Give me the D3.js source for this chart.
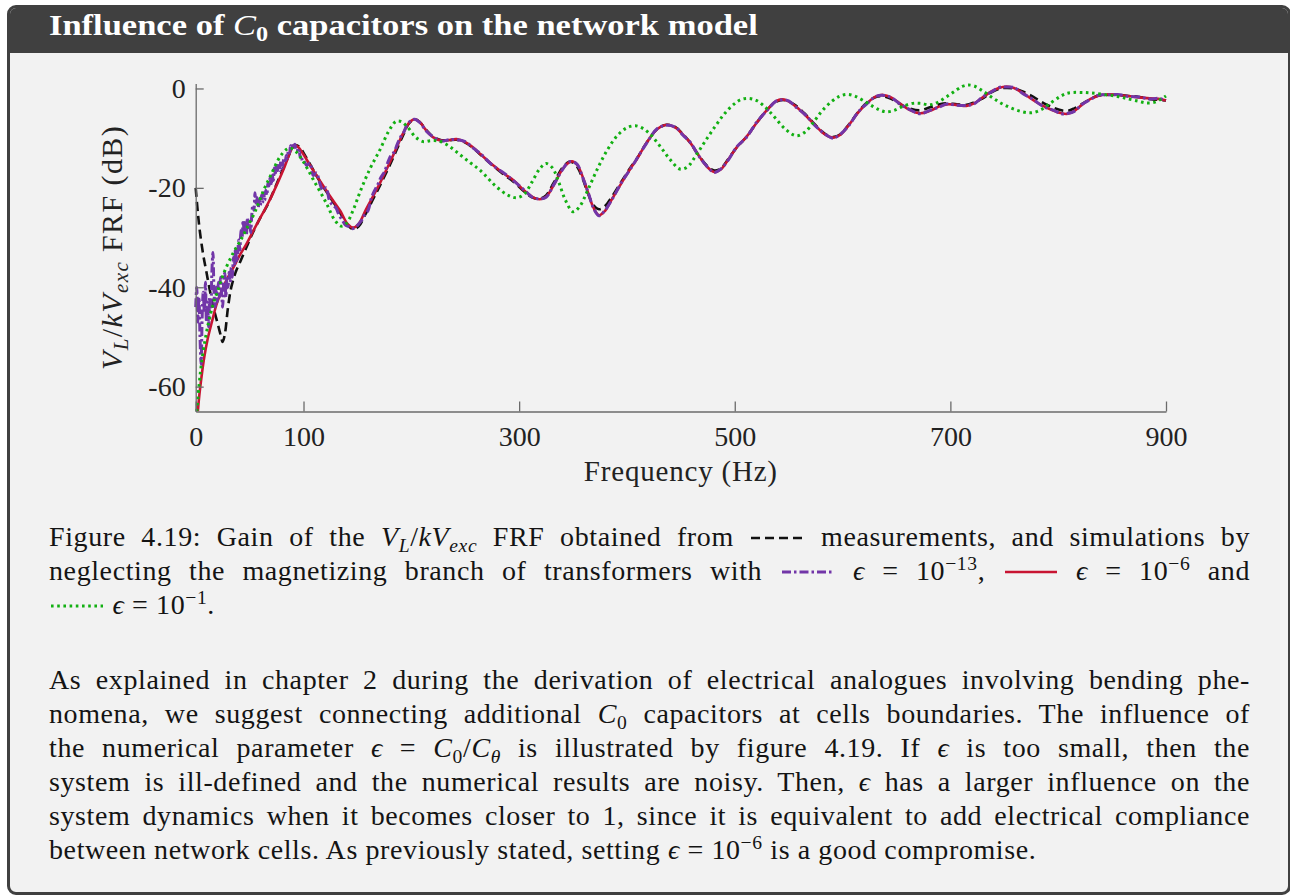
<!DOCTYPE html>
<html>
<head>
<meta charset="utf-8">
<script src="https://cdn.jsdelivr.net/npm/d3@7"></script>
<style>
  body { margin:0; background:#fff; width:1290px; height:896px; overflow:hidden; position:relative;
         font-family:'Liberation Serif','Times New Roman',serif; color:#141414; }
  #box { position:absolute; left:7px; top:5px; width:1284px; height:890px; box-sizing:border-box;
         border:3px solid #404040; border-radius:9px; background:#f2f2f2; overflow:hidden; }
  #head { position:absolute; left:0; top:0; right:0; height:45px; background:#404040; }
  #title { position:absolute; left:49px; top:8px; font-size:30px; font-weight:bold; color:#fff;
           line-height:34px; white-space:nowrap; transform:scaleX(1.15); transform-origin:0 0; }
  #title i { font-weight:normal; }
  .txt { position:absolute; left:49px; width:1201px; font-size:28px; line-height:34px; letter-spacing:0.6px; }
  .txt > div { height:34px; }
  .line { text-align:justify; text-align-last:justify; }
  .left { text-align:left; }
  .sub { font-size:70%; position:relative; top:0.3em; line-height:0; }
  .sup { font-size:70%; position:relative; top:-0.5em; line-height:0; }
  svg.key { display:inline-block; vertical-align:2px; }
  #chart { position:absolute; left:0; top:0; }
</style>
</head>
<body>
<div id="box"><div id="head"></div></div>
<div id="title">Influence of <i>C</i><span class="sub">0</span> capacitors on the network model</div>
<svg id="chart" width="1290" height="500"></svg>

<div class="txt" style="top:520px">
  <div class="line">Figure 4.19: Gain of the <i>V</i><span class="sub"><i>L</i></span>/<i>kV</i><span class="sub"><i>exc</i></span> FRF obtained from <svg class="key" data-s="meas" width="56" height="12"></svg> measurements, and simulations by</div>
  <div class="line">neglecting the magnetizing branch of transformers with <svg class="key" data-s="e13" width="56" height="12"></svg> <i>ϵ</i> = 10<span class="sup">−13</span>, <svg class="key" data-s="e6" width="56" height="12"></svg> <i>ϵ</i> = 10<span class="sup">−6</span> and</div>
  <div class="left"><svg class="key" data-s="e1" width="56" height="12"></svg> <i>ϵ</i> = 10<span class="sup">−1</span>.</div>
</div>

<div class="txt" style="top:663px">
  <div class="line">As explained in chapter 2 during the derivation of electrical analogues involving bending phe-</div>
  <div class="line">nomena, we suggest connecting additional <i>C</i><span class="sub">0</span> capacitors at cells boundaries. The influence of</div>
  <div class="line">the numerical parameter <i>ϵ</i> = <i>C</i><span class="sub">0</span>/<i>C</i><span class="sub"><i>θ</i></span> is illustrated by figure 4.19. If <i>ϵ</i> is too small, then the</div>
  <div class="line">system is ill-defined and the numerical results are noisy. Then, <i>ϵ</i> has a larger influence on the</div>
  <div class="line">system dynamics when it becomes closer to 1, since it is equivalent to add electrical compliance</div>
  <div class="left">between network cells. As previously stated, setting <i>ϵ</i> = 10<span class="sup">−6</span> is a good compromise.</div>
</div>

<script>
// Axis ticks
const xTicks = [0, 100, 300, 500, 700, 900];
const yTicks = [0, -20, -40, -60];

// Measured FRF gain [frequency (Hz), gain (dB)]
const measured = [
  [0,-20],[2,-25],[4,-29],[7,-33.5],[10,-37],[13,-40.5],[16,-43.7],[20,-47],[23,-49.5],[25,-51],[27,-49.5],
  [30,-44],[33,-40],[37,-37],[42,-34.5],[48,-31.5],[53,-29],[60,-26],[66,-23.7],[72,-20.8],[78,-17.7],
  [84,-14.7],[88,-12.7],[92,-11.4],[96,-11.7],[101,-13.3],[108,-16],[116,-19],[125,-22],[134,-25],[141,-27.5],
  [146,-28.3],[151,-27.8],[157,-25.5],[164,-22.5],[171,-19.5],[182,-14.5],[192,-9.6],[198,-7],[203,-6.2],
  [208,-6.8],[214,-8.4],[220,-9.7],[228,-10.4],[235,-10.4],[242,-10.3],[250,-10.9],[258,-12.1],[264,-13.3],
  [275,-15.4],[287,-17.5],[295,-18.8],[305,-20.8],[313,-22],[319,-22.2],[325,-21.5],[332,-19],[340,-16],
  [346,-14.8],[350,-14.9],[354,-15.8],[359,-18.2],[364,-21.2],[369,-23.5],[374,-24.3],[379,-23.8],[386,-21.8],
  [395,-18.7],[403,-16],[409,-14.2],[418,-11],[428,-8.2],[437,-7.3],[445,-7.8],[452,-9.2],[459,-11],[466,-13.3],
  [474,-15.5],[481,-16.5],[487,-16.1],[494,-14.2],[502,-11.8],[511,-9.7],[520,-7],[530,-4.3],[538,-2.7],
  [544,-2.3],[550,-2.6],[557,-3.5],[566,-5.3],[575,-7.4],[584,-9.2],[591,-9.8],[598,-9.2],[606,-7.2],
  [615,-4.6],[624,-2.6],[631,-1.7],[638,-1.6],[645,-2.1],[653,-3.1],[662,-4],[672,-4.4],[681,-3.8],[690,-3.2],
  [697,-3],[706,-3.2],[715,-3.3],[722,-2.8],[730,-2],[738,-0.8],[746,0],[752,0.1],[759,0],[767,-0.6],
  [777,-1.7],[786,-2.9],[796,-3.9],[803,-4.4],[809,-4.5],[815,-4],[823,-3],[830,-2.1],[836,-1.5],[845,-1.3],
  [855,-1.3],[865,-1.5],[875,-1.7],[888,-2.2],[900,-2.4]
];

// Simulation, epsilon = 1e-13 (noisy at low frequency)
const eps13 = [
  [0,-44],[1,-40],[2,-47],[3,-42],[4,-50],[5,-55.5],[6,-46],[7,-41],[8,-45],[9,-39],[10,-47],[11,-43],
  [12,-48],[13,-42],[14,-45],[15,-37],[16,-33],[17,-41],[18,-44],[19,-40],[20,-43],[21,-39],[22,-42],
  [23,-38],[24,-41],[25,-44],[26,-39],[27,-37],[28,-42],[29,-38],[30,-40],[31,-37],[32,-39],[33,-36],
  [34,-38],[35,-34],[36,-35.5],[37,-32],[38,-35],[39,-33],[40,-30.5],[41,-32.5],[42,-28.5],[43,-30],
  [44,-26.5],[45,-29],[46,-27],[47,-29.5],[48,-26],[49,-28],[50,-27],[51,-29],[52,-25.5],[53,-23.5],
  [54,-24.5],[55,-21],[56,-23.5],[57,-22],[58,-24],[59,-22.5],[60,-23.5],[61,-21.5],[62,-23],[63,-21],
  [64,-22.5],[65,-20.5],[66,-21.5],[67,-19],[68,-20],[69,-18],[70,-19.5],[71,-17.5],[72,-18.5],[73,-16],
  [74,-17],[75,-15.5],[76,-16.5],[77,-15],[78,-16.5],[79,-14.5],[80,-16],[81,-15],[82,-14],[83,-15],
  [84,-13.5],[85,-14],[86,-12.5],[87,-13],[88,-11.5],[89,-12],[90,-11],[91,-11.6],[92,-11.2],[93,-12.2],
  [94,-12],[95,-13],[96,-12.6],[97,-13.8],[98,-13.4],[99,-14.6],[100,-14.5],
  [103,-15.5],[106,-15],[109,-17.5],[112,-17],[115,-19],[118,-20.5],[121,-20],[124,-22.5],[127,-23.5],
  [130,-24],[133,-25.5],[136,-26.5],[139,-27.5],[142,-27.8],[145,-28.2],[148,-28],[151,-27.3],[154,-26.5],
  [157,-25.3],[160,-24.5],[163,-22],[166,-20.5],[169,-19.3],[172,-17.8],[175,-16.8],[178,-15],[181,-13.5],
  [184,-12.8],[187,-11.2],[190,-9.8],[193,-8.8],[196,-7.3],[199,-6.6],[203,-6.2],
  [208,-6.9],[214,-8.6],[220,-9.7],[228,-10.6],[235,-10.3],[242,-10.3],[250,-10.7],[258,-12.1],[264,-13.1],
  [275,-15.4],[287,-17.2],[295,-18.6],[305,-20.5],[313,-22],[319,-22.2],[325,-21.9],[332,-19.4],[340,-16.4],
  [346,-14.8],[350,-14.8],[354,-15.3],[359,-17.9],[364,-20.9],[369,-24.1],[374,-25.6],[379,-24.7],[386,-22.4],
  [395,-18.9],[403,-16.3],[409,-14.2],[418,-11.1],[428,-8.1],[437,-7.4],[445,-7.8],[452,-9.4],[459,-10.9],
  [466,-13.4],[474,-15.6],[481,-16.9],[487,-16.2],[494,-14.4],[502,-11.7],[511,-9.8],[520,-6.9],[530,-4.4],
  [538,-2.6],[544,-2.3],[550,-2.5],[557,-3.8],[566,-5.4],[575,-7.6],[584,-9.2],[591,-10],[598,-9.2],
  [606,-7.4],[615,-4.6],[624,-2.8],[631,-1.6],[638,-1.4],[645,-1.8],[653,-3.1],[662,-4.2],[672,-5.1],
  [681,-4.4],[690,-3.7],[697,-3.1],[706,-3.4],[715,-3.4],[722,-3.1],[730,-1.7],[738,-0.7],[745,0.2],
  [752,0.3],[759,0.2],[767,-1],[776,-2.1],[786,-3.6],[796,-4.4],[803,-5.1],[809,-5],[815,-4.6],[822,-3.2],
  [830,-2.2],[838,-1.3],[845,-1.3],[855,-1.2],[865,-1.6],[875,-1.7],[885,-2.1],[893,-2],[900,-2.4]
];

// Simulation, epsilon = 1e-6
const eps6 = [
  [2,-65],[3,-62.5],[4,-60.5],[6,-57],[8,-54],[11,-50.5],[15,-47],[20,-43],[28,-38.8],[35,-36],[41,-33.5],
  [47,-31.3],[55,-28],[62,-25.2],[69,-22.3],[76,-19],[82,-16],[87.5,-12.9],[91,-11.4],[95,-11.8],[100,-13.3],
  [107,-15.8],[115,-18.5],[125,-21.8],[134,-24.6],[141,-27.3],[146,-28],[151,-27.3],[158,-24.3],[165,-21.5],
  [171,-19],[182,-14],[192,-9.2],[198,-6.9],[203,-6.2],[208,-6.8],[214,-8.5],[220,-9.8],[228,-10.5],
  [235,-10.4],[242,-10.2],[250,-10.8],[258,-12],[264,-13.2],[275,-15.3],[287,-17.3],[295,-18.5],[305,-20.6],
  [313,-21.9],[319,-22.3],[325,-21.8],[332,-19.5],[340,-16.3],[346,-14.9],[350,-14.7],[354,-15.4],[359,-17.8],
  [364,-21],[369,-24],[374,-25.5],[379,-24.8],[386,-22.3],[395,-19],[403,-16.2],[409,-14.3],[418,-11],
  [428,-8.2],[437,-7.3],[445,-7.9],[452,-9.3],[459,-11],[466,-13.3],[474,-15.7],[481,-16.8],[487,-16.3],
  [494,-14.3],[502,-11.8],[511,-9.7],[520,-7],[530,-4.3],[538,-2.6],[544,-2.2],[550,-2.6],[557,-3.7],
  [566,-5.5],[575,-7.5],[584,-9.3],[591,-9.9],[598,-9.3],[606,-7.3],[615,-4.7],[624,-2.7],[631,-1.6],
  [638,-1.3],[645,-1.8],[653,-3],[662,-4.3],[672,-5],[681,-4.5],[690,-3.6],[697,-3.2],[706,-3.3],[715,-3.5],
  [722,-3],[730,-1.8],[738,-0.6],[745,0.1],[752,0.4],[759,0.1],[767,-0.9],[776,-2.2],[786,-3.5],[796,-4.5],
  [803,-5],[809,-5.1],[815,-4.5],[822,-3.3],[830,-2.1],[838,-1.4],[845,-1.2],[855,-1.3],[865,-1.5],
  [875,-1.8],[885,-2],[893,-2.1],[900,-2.4]
];

// Simulation, epsilon = 1e-1
const eps1 = [
  [1,-65],[3,-60],[5,-56],[8,-51.5],[12,-47],[16,-43.5],[20,-41],[26,-37.2],[35,-33],[41,-30.8],[47,-28.3],
  [55,-24.8],[63,-20.5],[70,-17.3],[78,-13.8],[84,-12.3],[88,-12],[93,-12.7],[100,-14.8],[109,-18.3],
  [121,-23],[129,-26.5],[135,-27.7],[140,-27.1],[146,-24.5],[153,-20.5],[162,-16],[171,-12.3],[179,-8.6],
  [186,-6.6],[191,-6.7],[197,-7.9],[204,-9.8],[211,-10.7],[218,-10.5],[226,-10.6],[235,-11.6],[245,-13.3],
  [255,-15],[264,-16.5],[279,-19.8],[290,-21.5],[298,-22],[305,-21.2],[312,-18.8],[319,-16.2],[325,-15.1],
  [331,-16],[337,-19],[343,-22.5],[350,-24.8],[356,-23.8],[364,-20.3],[373,-16],[382,-12.3],[391,-9.5],
  [400,-7.9],[408,-7.5],[416,-8.2],[424,-9.8],[432,-12],[440,-14.3],[449,-16.2],[456,-15.8],[464,-13.5],
  [472,-10.8],[481,-7.9],[490,-5.2],[499,-3.2],[506,-2.2],[513,-2],[520,-2.4],[528,-3.7],[537,-5.8],
  [547,-8.2],[557,-9.5],[565,-8.8],[573,-6.8],[581,-4.5],[590,-2.6],[597,-1.6],[604,-1.2],[611,-1.5],
  [619,-2.4],[628,-3.6],[635,-4.4],[641,-4.7],[648,-4.4],[656,-3.6],[665,-3],[672,-3],[681,-3.3],[689,-2.7],
  [697,-1.6],[705,-0.4],[711,0.4],[716,0.7],[722,0.5],[730,-0.5],[740,-2],[750,-3.3],[762,-4.4],[774,-4.9],
  [784,-4.3],[793,-2.9],[802,-1.6],[808,-1],[814,-0.8],[822,-0.8],[830,-0.9],[842,-1.2],[855,-1.6],
  [865,-2.1],[875,-2.6],[882,-2.9],[889,-2.8],[895,-2.2],[900,-1.5]
];

const styles = {
  meas: { color:"#111111", width:2.6, dash:"9,5" },
  e13:  { color:"#7236a8", width:3,   dash:"9,3,2.5,3" },
  e6:   { color:"#c81432", width:2.6, dash:null },
  e1:   { color:"#12b012", width:3,   dash:"2.6,3.6" }
};
const series = [
  { key:"meas", data:measured },
  { key:"e6",   data:eps6 },
  { key:"e13",  data:eps13 },
  { key:"e1",   data:eps1 }
];

const FONT = "'Liberation Serif','Times New Roman',serif";
const svg = d3.select("#chart");

const x = d3.scaleLinear().domain([0, 900]).range([195.7, 1166]);
const y = d3.scaleLinear().domain([-65, 1]).range([411.5, 83.5]);

svg.append("defs").append("clipPath").attr("id", "plotClip")
  .append("rect").attr("x", x(0) - 2).attr("y", y(1) - 4)
  .attr("width", x(900) - x(0) + 4).attr("height", y(-65) - y(1) + 4);

const line = d3.line()
  .x(d => x(d[0])).y(d => y(d[1]))
  .curve(d3.curveCatmullRom.alpha(0.5));

const plot = svg.append("g").attr("clip-path", "url(#plotClip)");
series.forEach(s => {
  const st = styles[s.key];
  plot.append("path").datum(s.data)
    .attr("d", line)
    .attr("fill", "none")
    .attr("stroke", st.color)
    .attr("stroke-width", st.width)
    .attr("stroke-dasharray", st.dash)
    .attr("stroke-linejoin", "round");
});

// Axes with inward ticks
const axisColor = "#6b6b6b";
const gx = svg.append("g").attr("transform", `translate(0,${y(-65)})`)
  .call(d3.axisBottom(x).tickValues(xTicks).tickFormat(d3.format("d"))
        .tickSizeInner(-10).tickSizeOuter(0).tickPadding(15));
const gy = svg.append("g").attr("transform", `translate(${x(0)},0)`)
  .call(d3.axisLeft(y).tickValues(yTicks).tickFormat(d => d === 0 ? "0" : "-" + Math.abs(d))
        .tickSizeInner(-8).tickSizeOuter(0).tickPadding(10));
[gx, gy].forEach(g => {
  g.attr("font-family", FONT).attr("font-size", 28);
  g.select(".domain").attr("stroke", axisColor).attr("stroke-width", 1.3);
  g.selectAll(".tick line").attr("stroke", axisColor).attr("stroke-width", 1.3);
  g.selectAll(".tick text").attr("fill", "#222");
});

// Axis titles
svg.append("text")
  .attr("x", (x(0) + x(900)) / 2).attr("y", 481)
  .attr("text-anchor", "middle").attr("font-family", FONT).attr("font-size", 29)
  .attr("letter-spacing", 0.8).attr("fill", "#222")
  .text("Frequency (Hz)");

const yl = svg.append("text")
  .attr("transform", `translate(122,${(y(1) + y(-65)) / 2}) rotate(-90)`)
  .attr("text-anchor", "middle").attr("font-family", FONT).attr("font-size", 30)
  .attr("letter-spacing", 1.4).attr("fill", "#222");
yl.append("tspan").attr("font-style", "italic").text("V");
yl.append("tspan").attr("font-style", "italic").attr("font-size", 21).attr("dy", 6).text("L");
yl.append("tspan").attr("dy", -6).text("/");
yl.append("tspan").attr("font-style", "italic").text("kV");
yl.append("tspan").attr("font-style", "italic").attr("font-size", 21).attr("dy", 6).text("exc");
yl.append("tspan").attr("dy", -6).text(" FRF (dB)");

// Inline line samples in the caption
d3.selectAll("svg.key").each(function () {
  const st = styles[this.getAttribute("data-s")];
  d3.select(this).append("line")
    .attr("x1", 2).attr("x2", 54).attr("y1", 6).attr("y2", 6)
    .attr("stroke", st.color).attr("stroke-width", st.width)
    .attr("stroke-dasharray", st.dash);
});
</script>
</body>
</html>
